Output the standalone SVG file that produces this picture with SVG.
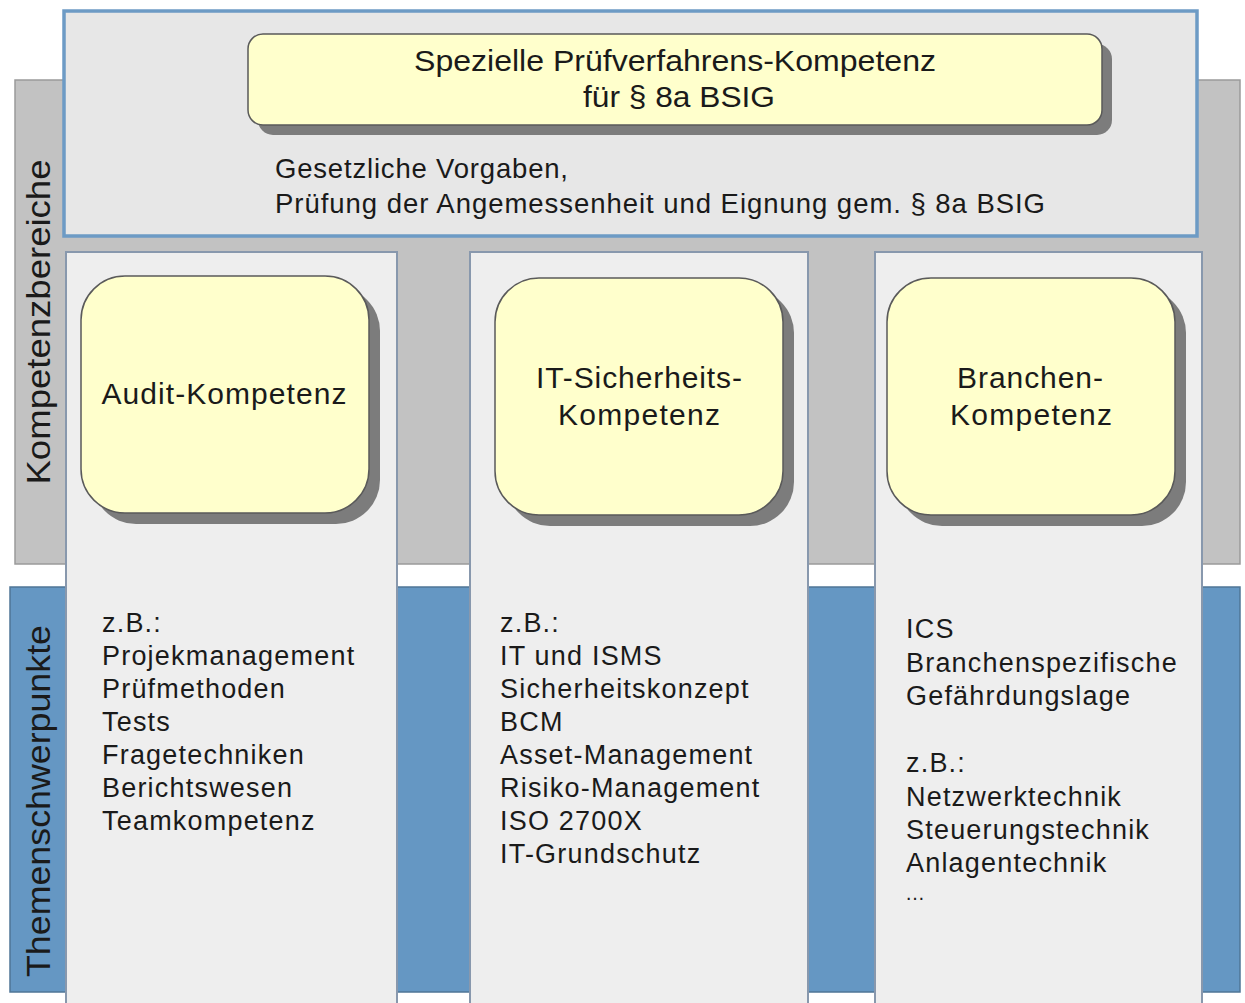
<svg xmlns="http://www.w3.org/2000/svg" width="1245" height="1003" viewBox="0 0 1245 1003">
<defs>
<style>
text{font-family:"Liberation Sans",Arial,sans-serif;fill:#1a1a1a}
.band-gray{fill:#c2c2c2;stroke:#9a9a9a;stroke-width:1.5}
.band-blue{fill:#6597c3;stroke:#4f7697;stroke-width:1.5}
.col{fill:#eeeeee;stroke:#8898ad;stroke-width:2}
.yel{fill:#ffffcc;stroke:#5a5a5a;stroke-width:1.5}
.shadow{fill:#7c7c7c}
.title{font-size:30px;text-anchor:middle}
.list{font-size:27px;letter-spacing:1.2px}
.vert{font-size:34px;text-anchor:middle}
</style>
</defs>
<rect width="1245" height="1003" fill="#ffffff"/>
<g id="band-kompetenzbereiche">
<rect class="band-gray" x="15" y="80" width="1225" height="484"/>
<text class="vert" transform="translate(50,322) rotate(-90)" textLength="325" lengthAdjust="spacingAndGlyphs">Kompetenzbereiche</text>
</g>
<g id="band-themenschwerpunkte">
<rect class="band-blue" x="10" y="587" width="1230" height="405"/>
<text class="vert" transform="translate(50,801) rotate(-90)" textLength="352" lengthAdjust="spacingAndGlyphs">Themenschwerpunkte</text>
</g>
<g id="top-area">
<rect x="64" y="11" width="1133" height="225" fill="#e7e7e7" stroke="#6d9bc5" stroke-width="3.5"/>
<text x="275" y="178" font-size="27.5" textLength="293" lengthAdjust="spacing">Gesetzliche Vorgaben,</text>
<text x="275" y="213" font-size="27.5" textLength="770" lengthAdjust="spacing">Prüfung der Angemessenheit und Eignung gem. § 8a BSIG</text>
</g>
<g id="node-spezielle">
<rect class="shadow" x="258" y="44" width="854" height="91" rx="15"/>
<rect class="yel" x="248" y="34" width="854" height="91" rx="15"/>
<text x="675" y="71" font-size="29" text-anchor="middle" textLength="522" lengthAdjust="spacingAndGlyphs">Spezielle Prüfverfahrens-Kompetenz</text>
<text x="679" y="107" font-size="29" text-anchor="middle" textLength="192" lengthAdjust="spacingAndGlyphs">für § 8a BSIG</text>
</g>
<g id="column-audit">
<rect class="col" x="66" y="252" width="331" height="760"/>
<rect class="shadow" x="92" y="287" width="288" height="237" rx="44"/>
<rect class="yel" x="81" y="276" width="288" height="237" rx="44"/>
<text class="title" x="224" y="404" textLength="245" lengthAdjust="spacing">Audit-Kompetenz</text>
<text class="list" x="102" y="632">z.B.:</text>
<text class="list" x="102" y="665">Projekmanagement</text>
<text class="list" x="102" y="698">Prüfmethoden</text>
<text class="list" x="102" y="731">Tests</text>
<text class="list" x="102" y="764">Fragetechniken</text>
<text class="list" x="102" y="797">Berichtswesen</text>
<text class="list" x="102" y="830">Teamkompetenz</text>
</g>
<g id="column-it">
<rect class="col" x="470" y="252" width="338" height="760"/>
<rect class="shadow" x="506" y="289" width="288" height="237" rx="44"/>
<rect class="yel" x="495" y="278" width="288" height="237" rx="44"/>
<text class="title" x="639" y="388" textLength="206" lengthAdjust="spacing">IT-Sicherheits-</text>
<text class="title" x="639" y="425" textLength="162" lengthAdjust="spacing">Kompetenz</text>
<text class="list" x="500" y="632">z.B.:</text>
<text class="list" x="500" y="665">IT und ISMS</text>
<text class="list" x="500" y="698">Sicherheitskonzept</text>
<text class="list" x="500" y="731">BCM</text>
<text class="list" x="500" y="764">Asset-Management</text>
<text class="list" x="500" y="797">Risiko-Management</text>
<text class="list" x="500" y="830">ISO 2700X</text>
<text class="list" x="500" y="863">IT-Grundschutz</text>
</g>
<g id="column-branchen">
<rect class="col" x="875" y="252" width="327" height="760"/>
<rect class="shadow" x="898" y="289" width="288" height="237" rx="44"/>
<rect class="yel" x="887" y="278" width="288" height="237" rx="44"/>
<text class="title" x="1030" y="388" textLength="146" lengthAdjust="spacing">Branchen-</text>
<text class="title" x="1031" y="425" textLength="162" lengthAdjust="spacing">Kompetenz</text>
<text class="list" x="906" y="638">ICS</text>
<text class="list" x="906" y="672">Branchenspezifische</text>
<text class="list" x="906" y="705">Gefährdungslage</text>
<text class="list" x="906" y="772">z.B.:</text>
<text class="list" x="906" y="806">Netzwerktechnik</text>
<text class="list" x="906" y="839">Steuerungstechnik</text>
<text class="list" x="906" y="872">Anlagentechnik</text>
<text x="905" y="900" font-size="20" textLength="28" lengthAdjust="spacing">…</text>
</g>
<g id="connectors"></g>
</svg>
